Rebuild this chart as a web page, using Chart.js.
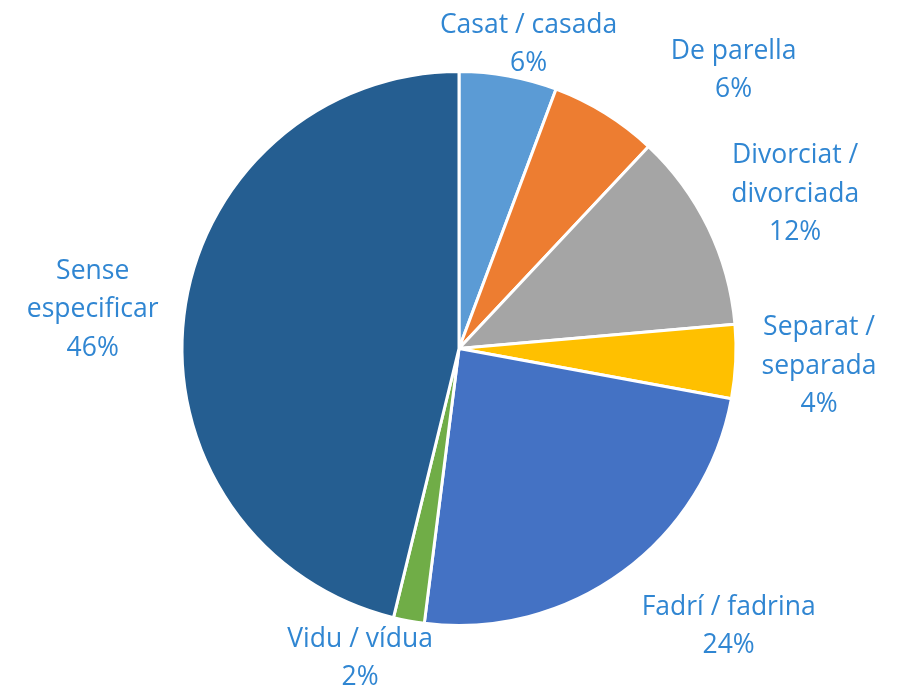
<!DOCTYPE html>
<html>
<head>
<meta charset="utf-8">
<script src="https://cdn.jsdelivr.net/npm/chart.js@4/dist/chart.umd.min.js"></script>
<style>
    html, body { margin: 0; padding: 0; background: #ffffff; }
    #wrap { width: 899px; height: 689px; position: relative; }
</style>
</head>
<body>
<div id="wrap"><canvas id="estatChart"></canvas></div>
<script>
// Dades llegides del gràfic (percentatges)
const categories = [
    ["Casat / casada"],
    ["De parella"],
    ["Divorciat /", "divorciada"],
    ["Separat /", "separada"],
    ["Fadrí / fadrina"],
    ["Vidu / vídua"],
    ["Sense", "especificar"],
];
const values = [5.7, 6.3, 11.6, 4.3, 24.1, 1.8, 46.2];
const colors = ["#5B9BD5", "#ED7D31", "#A5A5A5", "#FFC000", "#4472C4", "#70AD47", "#255E91"];

// petits desplaçaments de les etiquetes (com fa Excel per evitar solapaments)
const labelShift = [[0, 2], [82, 11], [7, 3], [1, 1], [40, 3], [-31, 1], [-1, 4]];

const labelFont = "26.5px 'Open Sans'";
const labelColor = "#3086D2";
const lineH = 38.5;

const outsideLabels = {
    id: "outsideLabels",
    afterDatasetsDraw(chart) {
        const ctx = chart.ctx;
        const meta = chart.getDatasetMeta(0);
        const total = values.reduce((a, b) => a + b, 0);
        ctx.save();
        ctx.font = labelFont;
        ctx.fillStyle = labelColor;
        ctx.textAlign = "center";
        ctx.textBaseline = "middle";
        meta.data.forEach((arc, i) => {
            const lines = categories[i].concat([Math.round((values[i] / total) * 100) + "%"]);
            const w = Math.max(...lines.map((l) => ctx.measureText(l).width));
            const h = lines.length * lineH;
            const mid = (arc.startAngle + arc.endAngle) / 2;
            const r = arc.outerRadius + 25;
            const s = Math.cos(mid), c = Math.sin(mid);
            let cx = arc.x + r * s + (w / 2) * s + labelShift[i][0];
            let cy = arc.y + r * c + (h / 2) * c + labelShift[i][1];
            // mantenir dins del llenç
            cy = Math.max(h / 2 + 4, Math.min(chart.height - h / 2 + 8, cy)) + (i === 0 ? labelShift[i][1] : 0);
            cx = Math.max(w / 2 + 2, Math.min(chart.width - w / 2 - 2, cx));
            lines.forEach((l, k) => {
                ctx.fillText(l, cx, cy - h / 2 + lineH * (k + 0.5));
            });
        });
        ctx.restore();
    },
};

document.addEventListener("DOMContentLoaded", function () {
    const ctx = document.getElementById("estatChart").getContext("2d");
    new Chart(ctx, {
        type: "pie",
        data: {
            labels: categories.map((c) => c.join(" ")),
            datasets: [
                {
                    data: values,
                    backgroundColor: colors,
                    borderColor: "#ffffff",
                    borderWidth: 3,
                },
            ],
        },
        options: {
            responsive: true,
            maintainAspectRatio: false,
            animation: false,
            layout: { padding: { top: 70, bottom: 62, left: 19, right: 0 } },
            plugins: {
                legend: { display: false },
                tooltip: { enabled: false },
            },
        },
        plugins: [outsideLabels],
    });
});
</script>
</body>
</html>
